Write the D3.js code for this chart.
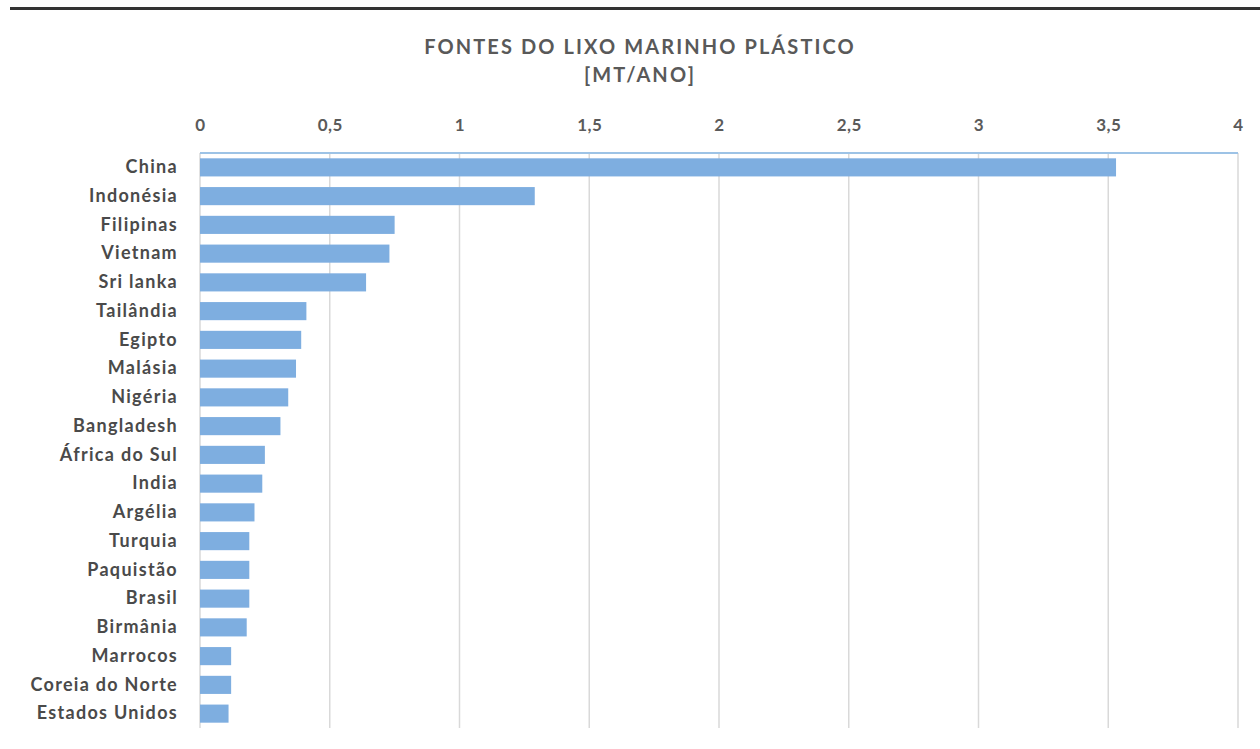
<!DOCTYPE html>
<html>
<head>
<meta charset="utf-8">
<script src="https://cdn.jsdelivr.net/npm/d3@7"></script>
<style>
  body { margin: 0; background: #fff; }
  svg { display: block; font-family: Lato, "Open Sans", sans-serif; }
</style>
</head>
<body>
<div id="chart"></div>
<script>
// dados: fontes do lixo marinho plástico (Mt/ano)
var countries = ["China", "Indonésia", "Filipinas", "Vietnam", "Sri lanka", "Tailândia",
  "Egipto", "Malásia", "Nigéria", "Bangladesh", "África do Sul", "India", "Argélia",
  "Turquia", "Paquistão", "Brasil", "Birmânia", "Marrocos", "Coreia do Norte", "Estados Unidos"];
var values = [3.53, 1.29, 0.75, 0.73, 0.64, 0.41, 0.39, 0.37, 0.34, 0.31, 0.25, 0.24, 0.21,
  0.19, 0.19, 0.19, 0.18, 0.12, 0.12, 0.11];
var ticks = [0, 0.5, 1, 1.5, 2, 2.5, 3, 3.5, 4];
var titleLines = ["FONTES DO LIXO MARINHO PLÁSTICO", "[MT/ANO]"];

var outWidth = 1260, outHeight = 749;
var margin = {top: 153, right: 22, bottom: 21, left: 200},
    width = outWidth - margin.left - margin.right,
    height = outHeight - margin.top - margin.bottom;

var svg = d3.select("#chart").append("svg")
    .attr("width", outWidth)
    .attr("height", outHeight);

// linha escura no topo
svg.append("rect")
    .attr("x", 10).attr("y", 7)
    .attr("width", outWidth - 10).attr("height", 3)
    .style("fill", "#333");

var g = svg.append("g")
    .attr("transform", "translate(" + margin.left + "," + margin.top + ")");

var xScale = d3.scaleLinear().domain([0, 4]).range([0, width]);
var yScale = d3.scaleBand().domain(countries).range([0, height])
    .paddingInner(0.37).paddingOuter(0.185);

// grelha vertical
g.selectAll(".grid")
    .data(ticks)
    .enter().append("line")
    .attr("class", "grid")
    .attr("x1", function(d) { return xScale(d); })
    .attr("x2", function(d) { return xScale(d); })
    .attr("y1", 0)
    .attr("y2", height)
    .style("stroke", "#d9d9d9")
    .style("stroke-width", 1.5);

// eixo x (em cima)
var xAxis = d3.axisTop(xScale)
    .tickValues(ticks)
    .tickSize(0)
    .tickPadding(22)
    .tickFormat(function(d) { return String(d).replace(".", ","); });

var ax = g.append("g").call(xAxis);
ax.select(".domain").remove();
ax.selectAll("text")
    .style("font-size", "17px")
    .style("font-weight", "bold")
    .style("letter-spacing", "0.5px")
    .style("fill", "#5a5a5a")
    .style("font-family", "Lato, sans-serif");

// barras
g.selectAll(".bar")
    .data(values)
    .enter().append("rect")
    .attr("class", "bar")
    .attr("x", 0)
    .attr("y", function(d, i) { return yScale(countries[i]); })
    .attr("width", function(d) { return xScale(d); })
    .attr("height", yScale.bandwidth())
    .style("fill", "#7eaee0");

// linha do eixo
g.append("line")
    .attr("x1", 0).attr("x2", width)
    .attr("y1", 0).attr("y2", 0)
    .style("stroke", "#9dc3e6")
    .style("stroke-width", 2);

// rótulos das categorias
var yAxis = d3.axisLeft(yScale).tickSize(0).tickPadding(22);
var ay = g.append("g").call(yAxis);
ay.select(".domain").remove();
ay.selectAll("text")
    .style("font-size", "18px")
    .style("font-weight", "bold")
    .style("letter-spacing", "1.3px")
    .style("fill", "#4a4a4a")
    .style("font-family", "Lato, sans-serif");

// título
svg.selectAll(".title")
    .data(titleLines)
    .enter().append("text")
    .attr("class", "title")
    .attr("x", 640)
    .attr("y", function(d, i) { return 54 + i * 28; })
    .attr("text-anchor", "middle")
    .style("font-size", "20px")
    .style("font-weight", "bold")
    .style("letter-spacing", "2.1px")
    .style("fill", "#595959")
    .text(function(d) { return d; });
</script>
</body>
</html>
